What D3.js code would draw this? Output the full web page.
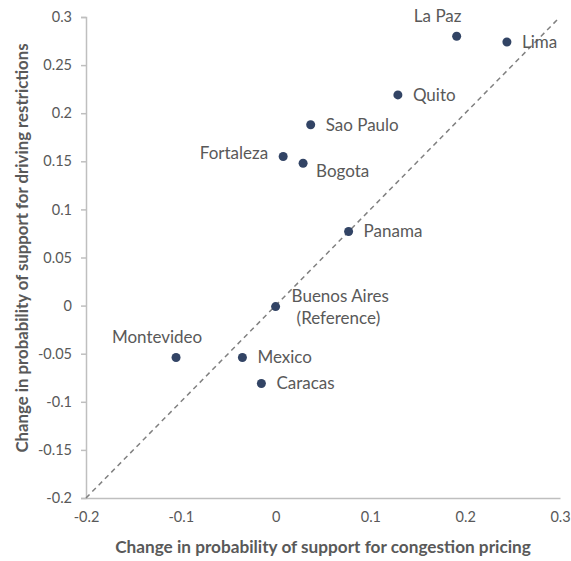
<!DOCTYPE html>
<html>
<head>
<meta charset="utf-8">
<script src="https://cdn.jsdelivr.net/npm/d3@7"></script>
<style>
  html, body { margin: 0; padding: 0; background: #fff; }
  svg { display: block; }
</style>
</head>
<body>
<svg id="chart" width="571" height="561"></svg>
<script>
// ---- Data ----
const cities = ["La Paz", "Lima", "Quito", "Sao Paulo", "Fortaleza", "Bogota", "Panama", "Buenos Aires|(Reference)", "Montevideo", "Mexico", "Caracas"];
const congestionPricing = [0.191, 0.244, 0.129, 0.037, 0.008, 0.029, 0.077, 0.0, -0.105, -0.035, -0.015];
const drivingRestrictions = [0.280, 0.274, 0.219, 0.188, 0.155, 0.148, 0.077, -0.001, -0.054, -0.054, -0.081];
const labelPlacement = ["above", "right", "right", "right", "left", "belowRight", "right", "aboveRight", "above", "right", "right"];
const xTicks = [-0.2, -0.1, 0, 0.1, 0.2, 0.3];
const yTicks = [-0.2, -0.15, -0.1, -0.05, 0, 0.05, 0.1, 0.15, 0.2, 0.25, 0.3];
const xTitle = "Change in probability of support for congestion pricing";
const yTitle = "Change in probability of support for driving restrictions";

// ---- Layout ----
const svg = d3.select("#chart");
const plotLeft = 86, plotRight = 560, plotTop = 17, plotBottom = 498;
const x = d3.scaleLinear().domain([-0.2, 0.3]).range([plotLeft, plotRight]);
const y = d3.scaleLinear().domain([-0.2, 0.3]).range([plotBottom, plotTop]);

const font = "Lato, 'Open Sans', sans-serif";
const textColor = "#595959";
const axisColor = "#bfbfbf";

// Y axis
const yAxis = svg.append("g").attr("transform", `translate(${plotLeft},0)`)
  .call(d3.axisLeft(y).tickValues(yTicks).tickSize(5).tickPadding(9)
    .tickFormat(d => String(+d.toFixed(2))));
yAxis.select(".domain").attr("stroke", axisColor).attr("stroke-width", 1.5);
yAxis.selectAll(".tick line").attr("stroke", axisColor).attr("stroke-width", 1.5);
yAxis.selectAll(".tick text").attr("fill", textColor).attr("font-family", font).attr("font-size", 14.5);

// X axis
const xAxis = svg.append("g").attr("transform", `translate(0,${plotBottom})`)
  .call(d3.axisBottom(x).tickValues(xTicks).tickSize(0).tickPadding(14)
    .tickFormat(d => String(+d.toFixed(2))));
xAxis.select(".domain").attr("stroke", axisColor).attr("stroke-width", 1.5);
xAxis.selectAll(".tick text").attr("fill", textColor).attr("font-family", font).attr("font-size", 14.5);

// Diagonal reference line
svg.append("line")
  .attr("x1", x(-0.2)).attr("y1", y(-0.2))
  .attr("x2", x(0.297)).attr("y2", y(0.297))
  .attr("stroke", "#808080").attr("stroke-width", 1.5)
  .attr("stroke-dasharray", "5,4");

// Points
const data = cities.map((c, i) => ({ name: c, x: congestionPricing[i], y: drivingRestrictions[i], place: labelPlacement[i] }));
svg.append("g").selectAll("circle").data(data).join("circle")
  .attr("cx", d => x(d.x)).attr("cy", d => y(d.y)).attr("r", 4.5)
  .attr("fill", "#324465");

// Labels
const lab = svg.append("g").attr("font-family", font).attr("font-size", 17).attr("fill", textColor);
data.forEach(d => {
  const px = x(d.x), py = y(d.y);
  const lines = d.name.split("|");
  let tx, ty, anchor = "start";
  if (d.place === "right") { tx = px + 15; ty = py; }
  else if (d.place === "left") { tx = px - 15; ty = py - 3; anchor = "end"; }
  else if (d.place === "above") { tx = px - 19; ty = py - 20; anchor = "middle"; }
  else if (d.place === "belowRight") { tx = px + 13; ty = py + 8; }
  else if (d.place === "aboveRight") { tx = px + 16; ty = py - 11; }
  lines.forEach((ln, k) => {
    lab.append("text")
      .attr("x", tx + (k > 0 ? 5 : 0)).attr("y", ty + k * 22)
      .attr("dy", "0.35em").attr("text-anchor", anchor).text(ln);
  });
});

// Axis titles
svg.append("text").attr("x", 323).attr("y", 547).attr("dy", "0.35em")
  .attr("text-anchor", "middle").attr("font-family", font).attr("font-size", 17.2)
  .attr("font-weight", "bold").attr("fill", textColor).text(xTitle);
svg.append("text").attr("transform", "translate(22,248) rotate(-90)").attr("dy", "0.35em")
  .attr("text-anchor", "middle").attr("font-family", font).attr("font-size", 16.8)
  .attr("font-weight", "bold").attr("fill", textColor).text(yTitle);
</script>
</body>
</html>
